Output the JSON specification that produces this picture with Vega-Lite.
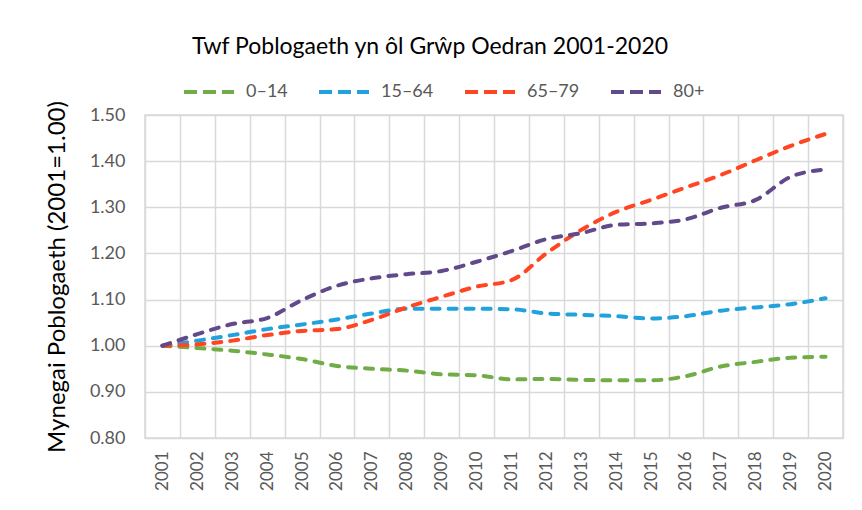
{
  "$schema": "https://vega.github.io/schema/vega-lite/v6.json",
  "autosize": "none",
  "width": 698,
  "height": 323,
  "padding": {"left": 145, "top": 115, "right": 19, "bottom": 72},
  "background": "white",
  "title": {
    "text": "Twf Poblogaeth yn ôl Grŵp Oedran 2001-2020",
    "font": "Lato",
    "fontSize": 23,
    "fontWeight": "normal",
    "color": "#000000",
    "anchor": "middle",
    "dx": -64,
    "offset": 6
  },
  "data": {
    "values": [
      {"year": "2001", "group": "0–14", "value": 1.000},
      {"year": "2002", "group": "0–14", "value": 0.995},
      {"year": "2003", "group": "0–14", "value": 0.989},
      {"year": "2004", "group": "0–14", "value": 0.981},
      {"year": "2005", "group": "0–14", "value": 0.971},
      {"year": "2006", "group": "0–14", "value": 0.956},
      {"year": "2007", "group": "0–14", "value": 0.950},
      {"year": "2008", "group": "0–14", "value": 0.946},
      {"year": "2009", "group": "0–14", "value": 0.938},
      {"year": "2010", "group": "0–14", "value": 0.936},
      {"year": "2011", "group": "0–14", "value": 0.927},
      {"year": "2012", "group": "0–14", "value": 0.928},
      {"year": "2013", "group": "0–14", "value": 0.926},
      {"year": "2014", "group": "0–14", "value": 0.925},
      {"year": "2015", "group": "0–14", "value": 0.925},
      {"year": "2016", "group": "0–14", "value": 0.934},
      {"year": "2017", "group": "0–14", "value": 0.955},
      {"year": "2018", "group": "0–14", "value": 0.965},
      {"year": "2019", "group": "0–14", "value": 0.974},
      {"year": "2020", "group": "0–14", "value": 0.976},
      {"year": "2001", "group": "15–64", "value": 1.000},
      {"year": "2002", "group": "15–64", "value": 1.011},
      {"year": "2003", "group": "15–64", "value": 1.023},
      {"year": "2004", "group": "15–64", "value": 1.036},
      {"year": "2005", "group": "15–64", "value": 1.046},
      {"year": "2006", "group": "15–64", "value": 1.057},
      {"year": "2007", "group": "15–64", "value": 1.070},
      {"year": "2008", "group": "15–64", "value": 1.080},
      {"year": "2009", "group": "15–64", "value": 1.080},
      {"year": "2010", "group": "15–64", "value": 1.080},
      {"year": "2011", "group": "15–64", "value": 1.079},
      {"year": "2012", "group": "15–64", "value": 1.070},
      {"year": "2013", "group": "15–64", "value": 1.067},
      {"year": "2014", "group": "15–64", "value": 1.064},
      {"year": "2015", "group": "15–64", "value": 1.059},
      {"year": "2016", "group": "15–64", "value": 1.064},
      {"year": "2017", "group": "15–64", "value": 1.076},
      {"year": "2018", "group": "15–64", "value": 1.083},
      {"year": "2019", "group": "15–64", "value": 1.090},
      {"year": "2020", "group": "15–64", "value": 1.103},
      {"year": "2001", "group": "65–79", "value": 1.000},
      {"year": "2002", "group": "65–79", "value": 1.003},
      {"year": "2003", "group": "65–79", "value": 1.011},
      {"year": "2004", "group": "65–79", "value": 1.023},
      {"year": "2005", "group": "65–79", "value": 1.032},
      {"year": "2006", "group": "65–79", "value": 1.036},
      {"year": "2007", "group": "65–79", "value": 1.056},
      {"year": "2008", "group": "65–79", "value": 1.083},
      {"year": "2009", "group": "65–79", "value": 1.106},
      {"year": "2010", "group": "65–79", "value": 1.128},
      {"year": "2011", "group": "65–79", "value": 1.142},
      {"year": "2012", "group": "65–79", "value": 1.200},
      {"year": "2013", "group": "65–79", "value": 1.251},
      {"year": "2014", "group": "65–79", "value": 1.290},
      {"year": "2015", "group": "65–79", "value": 1.316},
      {"year": "2016", "group": "65–79", "value": 1.343},
      {"year": "2017", "group": "65–79", "value": 1.370},
      {"year": "2018", "group": "65–79", "value": 1.402},
      {"year": "2019", "group": "65–79", "value": 1.433},
      {"year": "2020", "group": "65–79", "value": 1.459},
      {"year": "2001", "group": "80+", "value": 1.000},
      {"year": "2002", "group": "80+", "value": 1.025},
      {"year": "2003", "group": "80+", "value": 1.047},
      {"year": "2004", "group": "80+", "value": 1.060},
      {"year": "2005", "group": "80+", "value": 1.099},
      {"year": "2006", "group": "80+", "value": 1.130},
      {"year": "2007", "group": "80+", "value": 1.146},
      {"year": "2008", "group": "80+", "value": 1.155},
      {"year": "2009", "group": "80+", "value": 1.162},
      {"year": "2010", "group": "80+", "value": 1.182},
      {"year": "2011", "group": "80+", "value": 1.205},
      {"year": "2012", "group": "80+", "value": 1.231},
      {"year": "2013", "group": "80+", "value": 1.244},
      {"year": "2014", "group": "80+", "value": 1.262},
      {"year": "2015", "group": "80+", "value": 1.265},
      {"year": "2016", "group": "80+", "value": 1.274},
      {"year": "2017", "group": "80+", "value": 1.299},
      {"year": "2018", "group": "80+", "value": 1.316},
      {"year": "2019", "group": "80+", "value": 1.366},
      {"year": "2020", "group": "80+", "value": 1.382}
    ]
  },
  "mark": {
    "type": "line",
    "strokeWidth": 4,
    "strokeDash": [8, 9],
    "strokeCap": "round",
    "interpolate": "monotone"
  },
  "encoding": {
    "x": {
      "field": "year",
      "type": "ordinal",
      "bandPosition": 0.5,
      "scale": {"type": "band", "paddingInner": 0, "paddingOuter": 0},
      "axis": {
        "title": null,
        "labelAngle": 270,
        "labelAlign": "right",
        "labelBaseline": "middle",
        "labelFont": "Lato",
        "labelFontSize": 17,
        "labelColor": "#595959",
        "labelPadding": 13,
        "domain": false,
        "ticks": false,
        "grid": true,
        "tickBand": "extent",
        "gridColor": "#D9D9D9",
        "gridWidth": 1.5
      }
    },
    "y": {
      "field": "value",
      "type": "quantitative",
      "scale": {"domain": [0.8, 1.5], "nice": false, "zero": false},
      "axis": {
        "title": "Mynegai Poblogaeth (2001=1.00)",
        "titleFont": "Lato",
        "titleFontSize": 24,
        "titleFontWeight": "normal",
        "titleColor": "#000000",
        "titlePadding": 20,
        "values": [0.8, 0.9, 1.0, 1.1, 1.2, 1.3, 1.4, 1.5],
        "format": ".2f",
        "labelFont": "Lato",
        "labelFontSize": 18,
        "labelColor": "#595959",
        "labelPadding": 20,
        "domain": false,
        "ticks": false,
        "grid": true,
        "gridColor": "#D9D9D9",
        "gridWidth": 1.5
      }
    },
    "color": {
      "field": "group",
      "type": "nominal",
      "scale": {
        "domain": ["0–14", "15–64", "65–79", "80+"],
        "range": ["#70AD47", "#22A2DD", "#FF4522", "#62498A"]
      },
      "legend": {
        "title": null,
        "orient": "none",
        "direction": "horizontal",
        "legendX": 37,
        "legendY": -50,
        "symbolType": "stroke",
        "symbolSize": 2500,
        "symbolStrokeWidth": 4,
        "symbolDash": [13, 6],
        "labelFont": "Lato",
        "labelFontSize": 18,
        "labelColor": "#595959",
        "labelOffset": 10,
        "columnPadding": 23
      }
    }
  },
  "config": {
    "view": {"stroke": "#D9D9D9", "strokeWidth": 1.5}
  }
}
